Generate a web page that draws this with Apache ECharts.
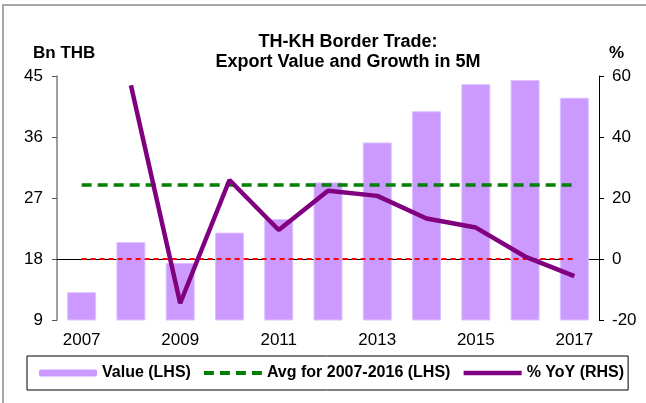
<!DOCTYPE html>
<html>
<head>
<meta charset="utf-8">
<script src="https://cdn.jsdelivr.net/npm/echarts@6/dist/echarts.min.js"></script>
<style>
  html, body { margin: 0; padding: 0; background: #fff; }
  #chart { width: 646px; height: 403px; }
</style>
</head>
<body>
<div id="chart"></div>
<script>
	// data
	var years = ['2007','2008','2009','2010','2011','2012','2013','2014','2015','2016','2017'];
	var exportValue = [13.1, 20.5, 17.4, 21.9, 23.9, 29.3, 35.2, 39.8, 43.8, 44.4, 41.8];
	var yoyGrowth = [null, 57.0, -14.5, 25.9, 9.5, 22.4, 20.7, 13.3, 10.3, 0.8, -5.6];
	var avgValue = 28.9;
	var leftTicks = { min: 9, max: 45, step: 9 };
	var rightTicks = { min: -20, max: 60, step: 20 };

	var font = 'Liberation Sans, Arial, sans-serif';
	var myChart = echarts.init(document.getElementById('chart'));

	var option = {
		animation: false,
		backgroundColor: '#fff',
		title: [
			{
				text: 'TH-KH Border Trade:\nExport Value and Growth in 5M',
				left: 343, top: 27, textAlign: 'center',
				textStyle: { fontFamily: font, fontSize: 18, fontWeight: 'bold', color: '#000', lineHeight: 20 }
			},
			{
				text: 'Bn THB', left: 28, top: 40,
				textStyle: { fontFamily: font, fontSize: 17, fontWeight: 'bold', color: '#000' }
			},
			{
				text: '%', left: 604, top: 40,
				textStyle: { fontFamily: font, fontSize: 17, fontWeight: 'bold', color: '#000' }
			}
		],
		graphic: [
			{
				type: 'polyline', silent: true,
				shape: { points: [[3, 403], [3, 5], [646, 5]] },
				style: { stroke: '#8c8c8c', lineWidth: 1.5, fill: null }
			}
		],
		legend: {
			left: 27, top: 356,
			padding: [9, 4, 9, 12],
			borderColor: '#000', borderWidth: 1,
			itemWidth: 58, itemHeight: 7, itemGap: 11,
			data: [
				{ name: 'Value (LHS)', itemStyle: { borderWidth: 0 } },
				{ name: 'Avg for 2007-2016 (LHS)', itemStyle: { opacity: 0 }, lineStyle: { width: 4, type: [10, 6] } },
				{ name: '% YoY (RHS)', itemStyle: { opacity: 0 }, lineStyle: { width: 4.5 } }
			],
			textStyle: { fontFamily: font, fontSize: 16, fontWeight: 'bold', color: '#000' }
		},
		grid: { left: 57, right: 47, top: 76, bottom: 83, containLabel: false },
		xAxis: {
			type: 'category',
			data: years,
			boundaryGap: true,
			axisLine: { lineStyle: { color: '#000', width: 1 } },
			axisTick: { interval: 0, length: 5, lineStyle: { color: '#000' } },
			axisLabel: { interval: 1, margin: 12, fontFamily: font, fontSize: 17, color: '#000' }
		},
		yAxis: [
			{
				type: 'value',
				min: leftTicks.min, max: leftTicks.max, interval: leftTicks.step,
				splitLine: { show: false },
				axisLine: { show: true, lineStyle: { color: '#808080', width: 1.5 } },
				axisTick: { show: true, length: 5, lineStyle: { color: '#555' } },
				axisLabel: { margin: 14, fontFamily: font, fontSize: 17, color: '#000' }
			},
			{
				type: 'value',
				min: rightTicks.min, max: rightTicks.max, interval: rightTicks.step,
				splitLine: { show: false },
				axisLine: { show: true, lineStyle: { color: '#000', width: 1 } },
				axisTick: { show: true, length: 5, lineStyle: { color: '#000' } },
				axisLabel: { margin: 13, fontFamily: font, fontSize: 17, color: '#000' }
			}
		],
		series: [
			{
				name: 'Value (LHS)',
				type: 'bar',
				data: exportValue,
				barWidth: 29,
				itemStyle: { color: '#cc99ff', borderColor: '#dcc2ff', borderWidth: 1 },
				z: 1
			},
			{
				name: 'Avg for 2007-2016 (LHS)',
				type: 'line',
				data: [[years[0], avgValue], [years[years.length - 1], avgValue]],
				symbol: 'none',
				lineStyle: { color: '#008000', width: 3.5, type: [10, 6] },
				itemStyle: { color: '#008000' },
				z: 3
			},
			{
				name: 'zero',
				type: 'line',
				yAxisIndex: 1,
				data: [[years[0], 0], [years[years.length - 1], 0]],
				symbol: 'none',
				lineStyle: { color: '#ff0000', width: 2, type: [5, 4] },
				z: 3
			},
			{
				name: '% YoY (RHS)',
				type: 'line',
				yAxisIndex: 1,
				data: yoyGrowth,
				symbol: 'none',
				lineStyle: { color: '#800080', width: 4.5 },
				itemStyle: { color: '#800080' },
				z: 4
			}
		]
	};
	myChart.setOption(option);
</script>
</body>
</html>
